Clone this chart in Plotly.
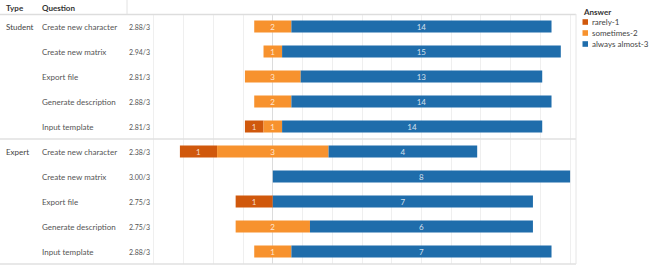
import plotly.graph_objects as go

types = ["Student"] * 5 + ["Expert"] * 5
questions = ["Create new character", "Create new matrix", "Export file",
             "Generate description", "Input template"] * 2
rarely = [0, 0, 0, 0, 1, 1, 0, 1, 0, 0]
sometimes = [2, 1, 3, 2, 1, 3, 0, 0, 2, 1]
always = [14, 15, 13, 14, 14, 4, 8, 7, 6, 7]
series_names = ["rarely-1", "sometimes-2", "always almost-3"]
colors = ["#d0580c", "#f7922e", "#1f6dab"]

n = len(questions)
totals = [rarely[i] + sometimes[i] + always[i] for i in range(n)]
pr = [100.0 * rarely[i] / totals[i] for i in range(n)]
ps = [100.0 * sometimes[i] / totals[i] for i in range(n)]
pa = [100.0 * always[i] / totals[i] for i in range(n)]
scores = [(rarely[i] * 1 + sometimes[i] * 2 + always[i] * 3) / totals[i] for i in range(n)]

rows = list(range(n))
base_r = [-(ps[i] / 2 + pr[i]) for i in range(n)]
base_s = [-ps[i] / 2 for i in range(n)]
base_a = [ps[i] / 2 for i in range(n)]

FONT = "Lato"

fig = go.Figure()
for name, col, widths, base, counts in [
    (series_names[0], colors[0], pr, base_r, rarely),
    (series_names[1], colors[1], ps, base_s, sometimes),
    (series_names[2], colors[2], pa, base_a, always),
]:
    fig.add_trace(go.Bar(
        y=rows, x=widths, base=base, orientation="h", name=name,
        marker=dict(color=col, line=dict(width=0)),
        text=[str(c) if c > 0 else "" for c in counts],
        textposition="inside", insidetextanchor="middle",
        textangle=0, constraintext="none",
        textfont=dict(color="rgba(255,255,255,0.8)", size=8, family=FONT),
        width=0.48, showlegend=False, cliponaxis=False,
    ))

fig.update_layout(
    width=652, height=265,
    margin=dict(l=0, r=0, t=14, b=1),
    paper_bgcolor="white", plot_bgcolor="white",
    barmode="overlay",
    font=dict(family=FONT, size=8, color="#444"),
    xaxis=dict(domain=[0.195, 0.8835], range=[-49, 102], dtick=10,
               showgrid=True, gridcolor="#efefef", gridwidth=1,
               zeroline=True, zerolinecolor="#dcdcdc", zerolinewidth=1,
               showticklabels=False, ticks="", fixedrange=True),
    yaxis=dict(range=[9.5, -0.5], showticklabels=False, showgrid=False,
               zeroline=False, ticks="", fixedrange=True),
)

ann = []
# header
ann.append(dict(text="<b>Type</b>", x=4 / 652, xref="paper", y=1, yref="paper",
                yshift=6, xanchor="left", yanchor="middle", showarrow=False,
                font=dict(size=8, color="#333")))
ann.append(dict(text="<b>Question</b>", x=40 / 652, xref="paper", y=1, yref="paper",
                yshift=6, xanchor="left", yanchor="middle", showarrow=False,
                font=dict(size=8, color="#333")))
prev = None
for i in range(n):
    if types[i] != prev:
        ann.append(dict(text=types[i], x=4 / 652, xref="paper", y=rows[i], yref="y",
                        xanchor="left", yanchor="middle", showarrow=False,
                        font=dict(size=8, color="#444")))
        prev = types[i]
    ann.append(dict(text=questions[i], x=40 / 652, xref="paper", y=rows[i], yref="y",
                    xanchor="left", yanchor="middle", showarrow=False,
                    font=dict(size=8, color="#555")))
    ann.append(dict(text=f"{scores[i]:.2f}/3", x=127 / 652, xref="paper", y=rows[i], yref="y",
                    xanchor="left", yanchor="middle", showarrow=False,
                    font=dict(size=7, color="#555")))

# legend (custom, compact)
ann.append(dict(text="<b>Answer</b>", x=581 / 652, xref="paper", y=1, yref="paper",
                yshift=2, xanchor="left", yanchor="middle", showarrow=False,
                font=dict(size=8, color="#333")))
shapes = []
for k, (nm, col) in enumerate(zip(series_names, colors)):
    yc = 22 + 11 * k
    yp = 1 - (yc - 14) / 250
    ann.append(dict(text=nm, x=590 / 652, xref="paper", y=yp, yref="paper",
                    xanchor="left", yanchor="middle", showarrow=False,
                    font=dict(size=8, color="#444")))
    shapes.append(dict(type="rect", xref="paper", yref="paper",
                       x0=582.5 / 652, x1=588 / 652,
                       y0=yp - 2.8 / 250, y1=yp + 2.8 / 250,
                       fillcolor=col, line=dict(width=0)))

# lines
def hline(ypix, color="#e2e2e2", w=1):
    yp = 1 - (ypix - 14) / 250
    shapes.append(dict(type="line", xref="paper", yref="paper", x0=0, x1=576 / 652,
                       y0=yp, y1=yp, line=dict(color=color, width=w)))

hline(14.5, "#dddddd", 1.5)
hline(139, "#e0e0e0", 1.5)
hline(264, "#e0e0e0", 1.5)
shapes.append(dict(type="line", xref="paper", yref="paper", x0=127 / 652, x1=127 / 652,
                   y0=1, y1=1 + 14 / 250, line=dict(color="#e2e2e2", width=1)))
shapes.append(dict(type="line", xref="paper", yref="paper", x0=576 / 652, x1=576 / 652,
                   y0=0, y1=1, line=dict(color="#e6e6e6", width=1)))

fig.update_layout(annotations=ann, shapes=shapes)
fig.write_html("out.html")
